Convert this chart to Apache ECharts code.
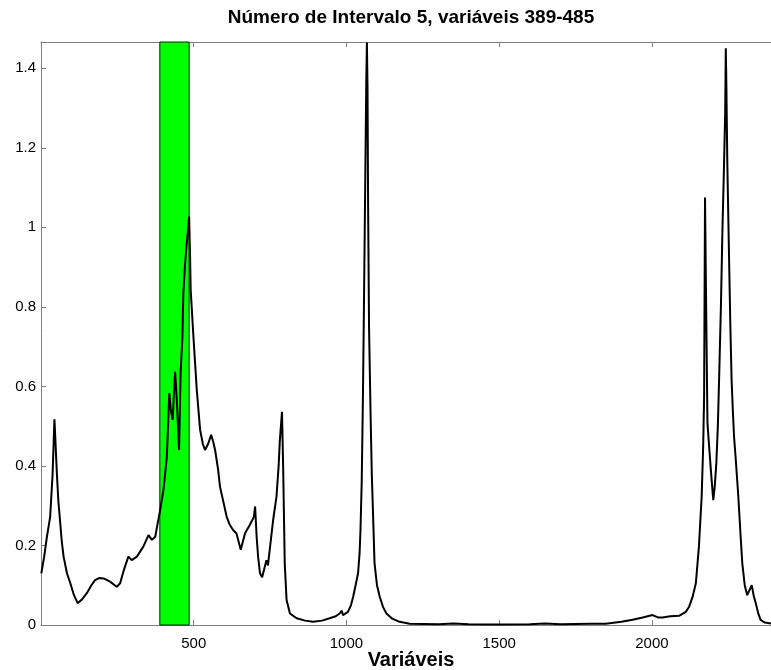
<!DOCTYPE html>
<html>
<head>
<meta charset="utf-8">
<script src="https://cdn.jsdelivr.net/npm/echarts@6/dist/echarts.min.js"></script>
<style>
  html, body { margin: 0; padding: 0; background: #fff; }
  #chart { width: 771px; height: 670px; }
</style>
</head>
<body>
<div id="chart"></div>
<script>
// Spectrum: variable index and absorbance
const variableIndex = [
  1, 10, 19, 30, 38, 44, 48, 52, 57, 63, 68, 74, 85, 96, 108, 120, 135, 150, 165, 177,
  190, 205, 226, 248, 259, 272, 286, 297, 314, 335, 352, 363, 374, 383, 390, 401, 412, 420, 425, 431,
  439, 444, 452, 457, 463, 466, 471, 477, 482, 485, 488, 490, 499, 510, 521, 530, 537, 547, 557, 564,
  570, 580, 586, 597, 608, 618, 629, 640, 654, 661, 668, 684, 697, 701, 706, 711, 717, 724, 730, 738,
  743, 747, 760, 771, 778, 782, 789, 793, 798, 804, 815, 837, 865, 891, 920, 945, 965, 978, 984, 989,
  1005, 1015, 1022, 1030, 1038, 1043, 1046, 1050, 1054, 1057, 1060, 1063, 1065, 1067, 1069, 1071, 1074, 1079, 1083, 1087,
  1092, 1100, 1109, 1120, 1131, 1150, 1174, 1207, 1300, 1350, 1400, 1500, 1600, 1650, 1700, 1800, 1849, 1900, 1937, 1970,
  2002, 2020, 2035, 2060, 2089, 2111, 2122, 2133, 2144, 2154, 2163, 2168, 2171, 2174, 2177, 2182, 2193, 2201, 2206, 2211,
  2216, 2220, 2226, 2231, 2236, 2240, 2242, 2244, 2247, 2253, 2257, 2261, 2265, 2269, 2274, 2283, 2290, 2296, 2304, 2312,
  2318, 2327, 2333, 2340, 2348, 2356, 2370, 2390
];
const absorbance = [
  0.13, 0.17, 0.22, 0.272, 0.38, 0.517, 0.45, 0.38, 0.31, 0.256, 0.21, 0.172, 0.13, 0.105, 0.075, 0.055, 0.065, 0.08, 0.1, 0.113,
  0.118, 0.117, 0.109, 0.096, 0.105, 0.14, 0.172, 0.163, 0.172, 0.197, 0.226, 0.214, 0.222, 0.26, 0.289, 0.34, 0.423, 0.583, 0.54, 0.516,
  0.637, 0.574, 0.44, 0.633, 0.725, 0.834, 0.9, 0.96, 1.0, 1.027, 0.93, 0.843, 0.725, 0.591, 0.49, 0.455, 0.44, 0.455, 0.478, 0.46,
  0.44, 0.39, 0.348, 0.31, 0.272, 0.252, 0.239, 0.23, 0.189, 0.21, 0.231, 0.252, 0.272, 0.298, 0.222, 0.17, 0.13, 0.12, 0.117, 0.163,
  0.15, 0.155, 0.264, 0.323, 0.4, 0.465, 0.536, 0.39, 0.155, 0.063, 0.029, 0.017, 0.011, 0.008, 0.011, 0.017, 0.022, 0.029, 0.036, 0.025,
  0.033, 0.05, 0.071, 0.1, 0.13, 0.18, 0.239, 0.36, 0.574, 0.78, 1.0, 1.22, 1.37, 1.465, 1.35, 1.05, 0.75, 0.532, 0.38, 0.281,
  0.155, 0.1, 0.071, 0.045, 0.029, 0.016, 0.008, 0.003, 0.002, 0.004, 0.002, 0.001, 0.002, 0.004, 0.002, 0.003, 0.003, 0.008, 0.013, 0.019,
  0.025, 0.019, 0.019, 0.022, 0.023, 0.033, 0.046, 0.07, 0.105, 0.197, 0.323, 0.45, 0.574, 1.075, 0.85, 0.507, 0.39, 0.314, 0.35, 0.407,
  0.5, 0.616, 0.8, 0.993, 1.15, 1.287, 1.45, 1.35, 1.161, 0.91, 0.75, 0.616, 0.54, 0.474, 0.423, 0.323, 0.23, 0.155, 0.1, 0.075,
  0.085, 0.1, 0.075, 0.055, 0.03, 0.013, 0.006, 0.004
];

// Selected interval
const intervalNumber = 5;
const intervalStart = 389;
const intervalEnd = 485;

// Axis ticks
const xTicks = [500, 1000, 1500, 2000];
const yTicks = [0, 0.2, 0.4, 0.6, 0.8, 1, 1.2, 1.4];

const xMax = 2390;
const yMax = 1.466;

const spectrum = variableIndex.map((v, i) => [v, absorbance[i]]);

const FONT = 'Liberation Sans, Arial, sans-serif';
const chart = echarts.init(document.getElementById('chart'), null, { renderer: 'canvas' });

const axisLineStyle = { color: '#7f7f7f', width: 1 };

chart.setOption({
  animation: false,
  backgroundColor: '#ffffff',
  grid: { left: 41, right: 0, top: 42, bottom: 45, containLabel: false },
  xAxis: [
    {
      type: 'value', min: 0, max: xMax, interval: 500, position: 'bottom',
      axisLine: { show: true, onZero: false, lineStyle: axisLineStyle },
      axisTick: { show: true, inside: true, length: 5, lineStyle: axisLineStyle },
      axisLabel: {
        color: '#000', fontFamily: FONT, fontSize: 15, margin: 11,
        showMinLabel: false, showMaxLabel: false,
        formatter: v => (xTicks.indexOf(v) >= 0 ? String(v) : '')
      },
      splitLine: { show: false }
    },
    {
      type: 'value', min: 0, max: xMax, interval: 500, position: 'top',
      axisLine: { show: true, onZero: false, lineStyle: axisLineStyle },
      axisTick: { show: true, inside: true, length: 5, lineStyle: axisLineStyle },
      axisLabel: { show: false },
      splitLine: { show: false }
    }
  ],
  yAxis: {
    type: 'value', min: 0, max: yMax, interval: 0.2,
    axisLine: { show: true, onZero: false, lineStyle: axisLineStyle },
    axisTick: { show: true, inside: true, length: 5, lineStyle: axisLineStyle },
    axisLabel: {
      color: '#000', fontFamily: FONT, fontSize: 15, margin: 5,
      showMaxLabel: false,
      formatter: v => {
        const t = yTicks.find(k => Math.abs(k - v) < 1e-6);
        return t === undefined ? '' : String(t);
      }
    },
    splitLine: { show: false }
  },
  series: [
    {
      name: 'intervalo',
      type: 'line',
      data: [],
      z: 1,
      silent: true,
      markArea: {
        silent: true,
        itemStyle: { color: '#00ff00', borderColor: '#1a1a1a', borderWidth: 1 },
        data: [[{ xAxis: intervalStart, yAxis: 0 }, { xAxis: intervalEnd, yAxis: yMax }]]
      }
    },
    {
      name: 'espectro',
      type: 'line',
      data: spectrum,
      z: 3,
      showSymbol: false,
      symbol: 'none',
      lineStyle: { color: '#000', width: 2 },
      silent: true
    }
  ],
  graphic: [
    {
      type: 'text', x: 411, y: 8,
      style: {
        text: 'Número de Intervalo ' + intervalNumber + ', variáveis ' + intervalStart + '-' + intervalEnd,
        font: 'bold 19px ' + FONT, fill: '#000', textAlign: 'center', textVerticalAlign: 'top'
      }
    },
    {
      type: 'text', x: 411, y: 650,
      style: { text: 'Variáveis', font: 'bold 20px ' + FONT, fill: '#000', textAlign: 'center', textVerticalAlign: 'top' }
    }
  ]
});
</script>
</body>
</html>
